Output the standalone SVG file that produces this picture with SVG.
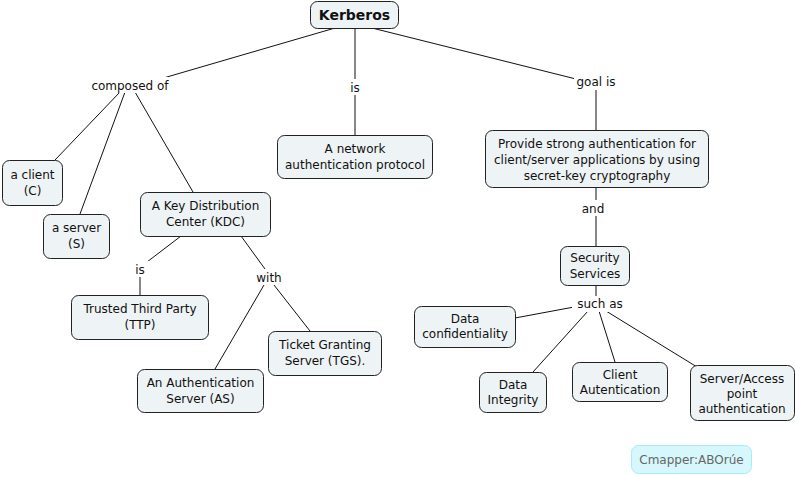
<svg xmlns="http://www.w3.org/2000/svg" width="795" height="477" viewBox="0 0 795 477">
<style>
.n{fill:#eef3f5;stroke:#222;stroke-width:1}
.t{font-family:"DejaVu Sans",Verdana,sans-serif;font-size:12px;fill:#111;text-anchor:middle}
.l{font-family:"DejaVu Sans",Verdana,sans-serif;font-size:12px;fill:#111;text-anchor:middle}
.c line{stroke:#111;stroke-width:1}
</style>
<rect width="795" height="477" fill="#fff"/>
<g class="c" id="connectors">
<line x1="335" y1="28" x2="160" y2="79"/>
<line x1="355" y1="28" x2="355" y2="80"/>
<line x1="372" y1="28" x2="576" y2="79"/>
<line x1="120" y1="92" x2="55" y2="160"/>
<line x1="125" y1="92" x2="80" y2="214"/>
<line x1="135" y1="92" x2="193" y2="192"/>
<line x1="355" y1="94" x2="355" y2="135"/>
<line x1="596" y1="90" x2="596" y2="130"/>
<line x1="596" y1="187" x2="596" y2="200"/>
<line x1="596" y1="216" x2="596" y2="246"/>
<line x1="181" y1="236" x2="147" y2="262"/>
<line x1="140" y1="276" x2="140" y2="295"/>
<line x1="241" y1="236" x2="265" y2="269"/>
<line x1="264" y1="285" x2="215" y2="369"/>
<line x1="274" y1="285" x2="310" y2="331"/>
<line x1="596" y1="285" x2="596" y2="296"/>
<line x1="574" y1="307" x2="515" y2="318"/>
<line x1="588" y1="311" x2="533" y2="372"/>
<line x1="599" y1="311" x2="615" y2="362"/>
<line x1="606" y1="311" x2="697" y2="367"/>
</g>
<g class="l" id="labels">
<rect x="90" y="77" width="80" height="16" fill="#fff"/>
<text class="l" x="130" y="90">composed of</text>
<rect x="346" y="79" width="18" height="16" fill="#fff"/>
<text class="l" x="355" y="92">is</text>
<rect x="574" y="73" width="44" height="16" fill="#fff"/>
<text class="l" x="596" y="86">goal is</text>
<rect x="580" y="200" width="28" height="16" fill="#fff"/>
<text class="l" x="593" y="213">and</text>
<rect x="131" y="261" width="18" height="16" fill="#fff"/>
<text class="l" x="140" y="274">is</text>
<rect x="255" y="269" width="30" height="16" fill="#fff"/>
<text class="l" x="269" y="282">with</text>
<rect x="572" y="296" width="56" height="16" fill="#fff"/>
<text class="l" x="600" y="308">such as</text>
</g>
<g id="kerberos"><rect class="n" x="310.5" y="1.5" width="88" height="27" rx="7"/><text class="t" x="354.5" y="20" style="font-weight:bold;font-size:14px">Kerberos</text></g>
<g id="client"><rect class="n" x="2.5" y="160.5" width="60" height="45" rx="7"/><text class="t" x="32.5" y="179">a client</text><text class="t" x="32.5" y="195">(C)</text></g>
<g id="server"><rect class="n" x="43.5" y="214.5" width="66" height="44" rx="7"/><text class="t" x="76.5" y="232">a server</text><text class="t" x="76.5" y="248">(S)</text></g>
<g id="kdc"><rect class="n" x="140.5" y="192.5" width="130" height="44" rx="7"/><text class="t" x="205.5" y="210">A Key Distribution</text><text class="t" x="205.5" y="226">Center (KDC)</text></g>
<g id="network"><rect class="n" x="277.5" y="135.5" width="155" height="43" rx="7"/><text class="t" x="355" y="153">A network</text><text class="t" x="355" y="169">authentication protocol</text></g>
<g id="provide"><rect class="n" x="485.5" y="130.5" width="223" height="57" rx="7"/><text class="t" x="597" y="148">Provide strong authentication for</text><text class="t" x="597" y="164">client/server applications by using</text><text class="t" x="597" y="180">secret-key cryptography</text></g>
<g id="security"><rect class="n" x="560.5" y="246.5" width="69" height="39" rx="7"/><text class="t" x="595" y="262">Security</text><text class="t" x="595" y="278">Services</text></g>
<g id="ttp"><rect class="n" x="71.5" y="295.5" width="137" height="44" rx="7"/><text class="t" x="140" y="313">Trusted Third Party</text><text class="t" x="140" y="329">(TTP)</text></g>
<g id="tgs"><rect class="n" x="268.5" y="331.5" width="113" height="44" rx="7"/><text class="t" x="325" y="349">Ticket Granting</text><text class="t" x="325" y="365">Server (TGS).</text></g>
<g id="as"><rect class="n" x="137.5" y="369.5" width="126" height="43" rx="7"/><text class="t" x="200.5" y="387">An Authentication</text><text class="t" x="200.5" y="403">Server (AS)</text></g>
<g id="conf"><rect class="n" x="414.5" y="306.5" width="101" height="41" rx="7"/><text class="t" x="465" y="323">Data</text><text class="t" x="465" y="338">confidentiality</text></g>
<g id="integrity"><rect class="n" x="479.5" y="372.5" width="67" height="40" rx="7"/><text class="t" x="513" y="389">Data</text><text class="t" x="513" y="404">Integrity</text></g>
<g id="clientauth"><rect class="n" x="572.5" y="362.5" width="95" height="39" rx="7"/><text class="t" x="620" y="379">Client</text><text class="t" x="620" y="394">Autentication</text></g>
<g id="serveraccess"><rect class="n" x="690.5" y="365.5" width="104" height="55" rx="7"/><text class="t" x="742" y="383">Server/Access</text><text class="t" x="742" y="398">point</text><text class="t" x="742" y="413">authentication</text></g>
<g id="cmapper"><rect x="631.5" y="445.5" width="120" height="28" rx="7" fill="#d6f7fb" stroke="#a8ecf3"/><text class="t" x="691.5" y="464" style="fill:#666">Cmapper:ABOrúe</text></g>
</svg>
